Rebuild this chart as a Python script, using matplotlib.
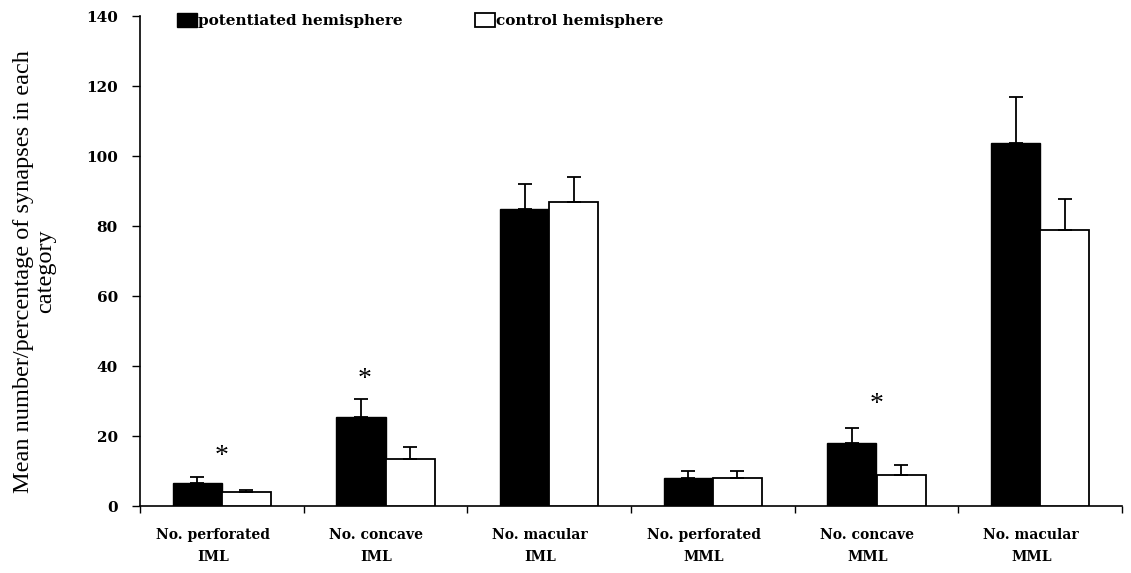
import matplotlib
matplotlib.use("Agg")
import matplotlib.pyplot as plt
import numpy as np

categories = ["No. perforated\nIML", "No. concave\nIML", "No. macular\nIML",
              "No. perforated\nMML", "No. concave\nMML", "No. macular\nMML"]
potentiated = [6.5, 25.5, 85, 8, 18, 103.7]
potentiated_err = [1.8, 5, 7, 2, 4.3, 13.3]
control = [4, 13.5, 87, 8, 9, 79]
control_err = [0.6, 3.5, 7, 2, 2.7, 8.7]
significant = [True, True, False, False, True, False]
star_y = [14.2, 36.2, None, None, 29.0, None]
star_dx = [0.0, -0.13, 0.0, 0.0, 0.0, 0.0]
yticks = [0, 20, 40, 60, 80, 100, 120, 140]

plt.rcParams['font.family'] = ['Liberation Serif', 'DejaVu Serif']
bold_font = dict(family='DejaVu Serif', weight='bold')

fig = plt.figure(figsize=(11.31, 5.73), dpi=100)
W, H = 1131, 573
left, right, bottom, top = 140, 1122, 506, 16
ax = fig.add_axes([left / W, (H - bottom) / H, (right - left) / W, (bottom - top) / H])

x = np.arange(len(categories))
bw = 0.3
ekw = dict(ecolor='black', elinewidth=1.3, capsize=5, capthick=1.3)
ax.bar(x - bw / 2, potentiated, bw, color='black', edgecolor='black', linewidth=1,
       yerr=[np.zeros(len(x)), potentiated_err], error_kw=ekw,
       label='potentiated hemisphere', zorder=3)
ax.bar(x + bw / 2, control, bw, color='white', edgecolor='black', linewidth=1.3,
       yerr=[np.zeros(len(x)), control_err], error_kw=ekw,
       label='control hemisphere', zorder=3)

for xi, sig, sy, dx in zip(x, significant, star_y, star_dx):
    if sig:
        ax.text(xi + dx, sy, '*', ha='center', va='center', fontsize=20)

ax.set_xlim(-0.5, len(categories) - 0.5)
ax.set_ylim(0, 140)
ax.set_yticks(yticks)
ax.set_yticklabels([str(t) for t in yticks], fontsize=11, **bold_font)
ax.set_xticks(x - 0.055)
ax.set_xticklabels(categories, fontsize=10, linespacing=1.7, **bold_font)
ax.tick_params(axis='x', which='major', length=0, pad=16)
ax.set_xticks(np.arange(-0.5, len(categories), 1), minor=True)
ax.tick_params(axis='x', which='minor', length=5, direction='out', width=1)
ax.tick_params(axis='y', length=6, direction='out', width=1, pad=10)

for s in ['top', 'right']:
    ax.spines[s].set_visible(False)
for s in ['left', 'bottom']:
    ax.spines[s].set_linewidth(1.2)

ax.set_ylabel("Mean number/percentage of synapses in each\ncategory", fontsize=17.5,
              linespacing=1.05, family='Liberation Serif')
ax.yaxis.set_label_coords((56 - left) / (right - left), (bottom - 271.5) / (bottom - top))

leg = fig.legend(loc='upper left', bbox_to_anchor=(177 / W, 1 - 13 / H), ncol=2, frameon=False,
                 prop=dict(family='DejaVu Serif', weight='bold', size=11),
                 handlelength=1.3, handleheight=1.0, handletextpad=0.1, columnspacing=4.7,
                 borderpad=0, borderaxespad=0)

fig.savefig('out.png', dpi=100)
